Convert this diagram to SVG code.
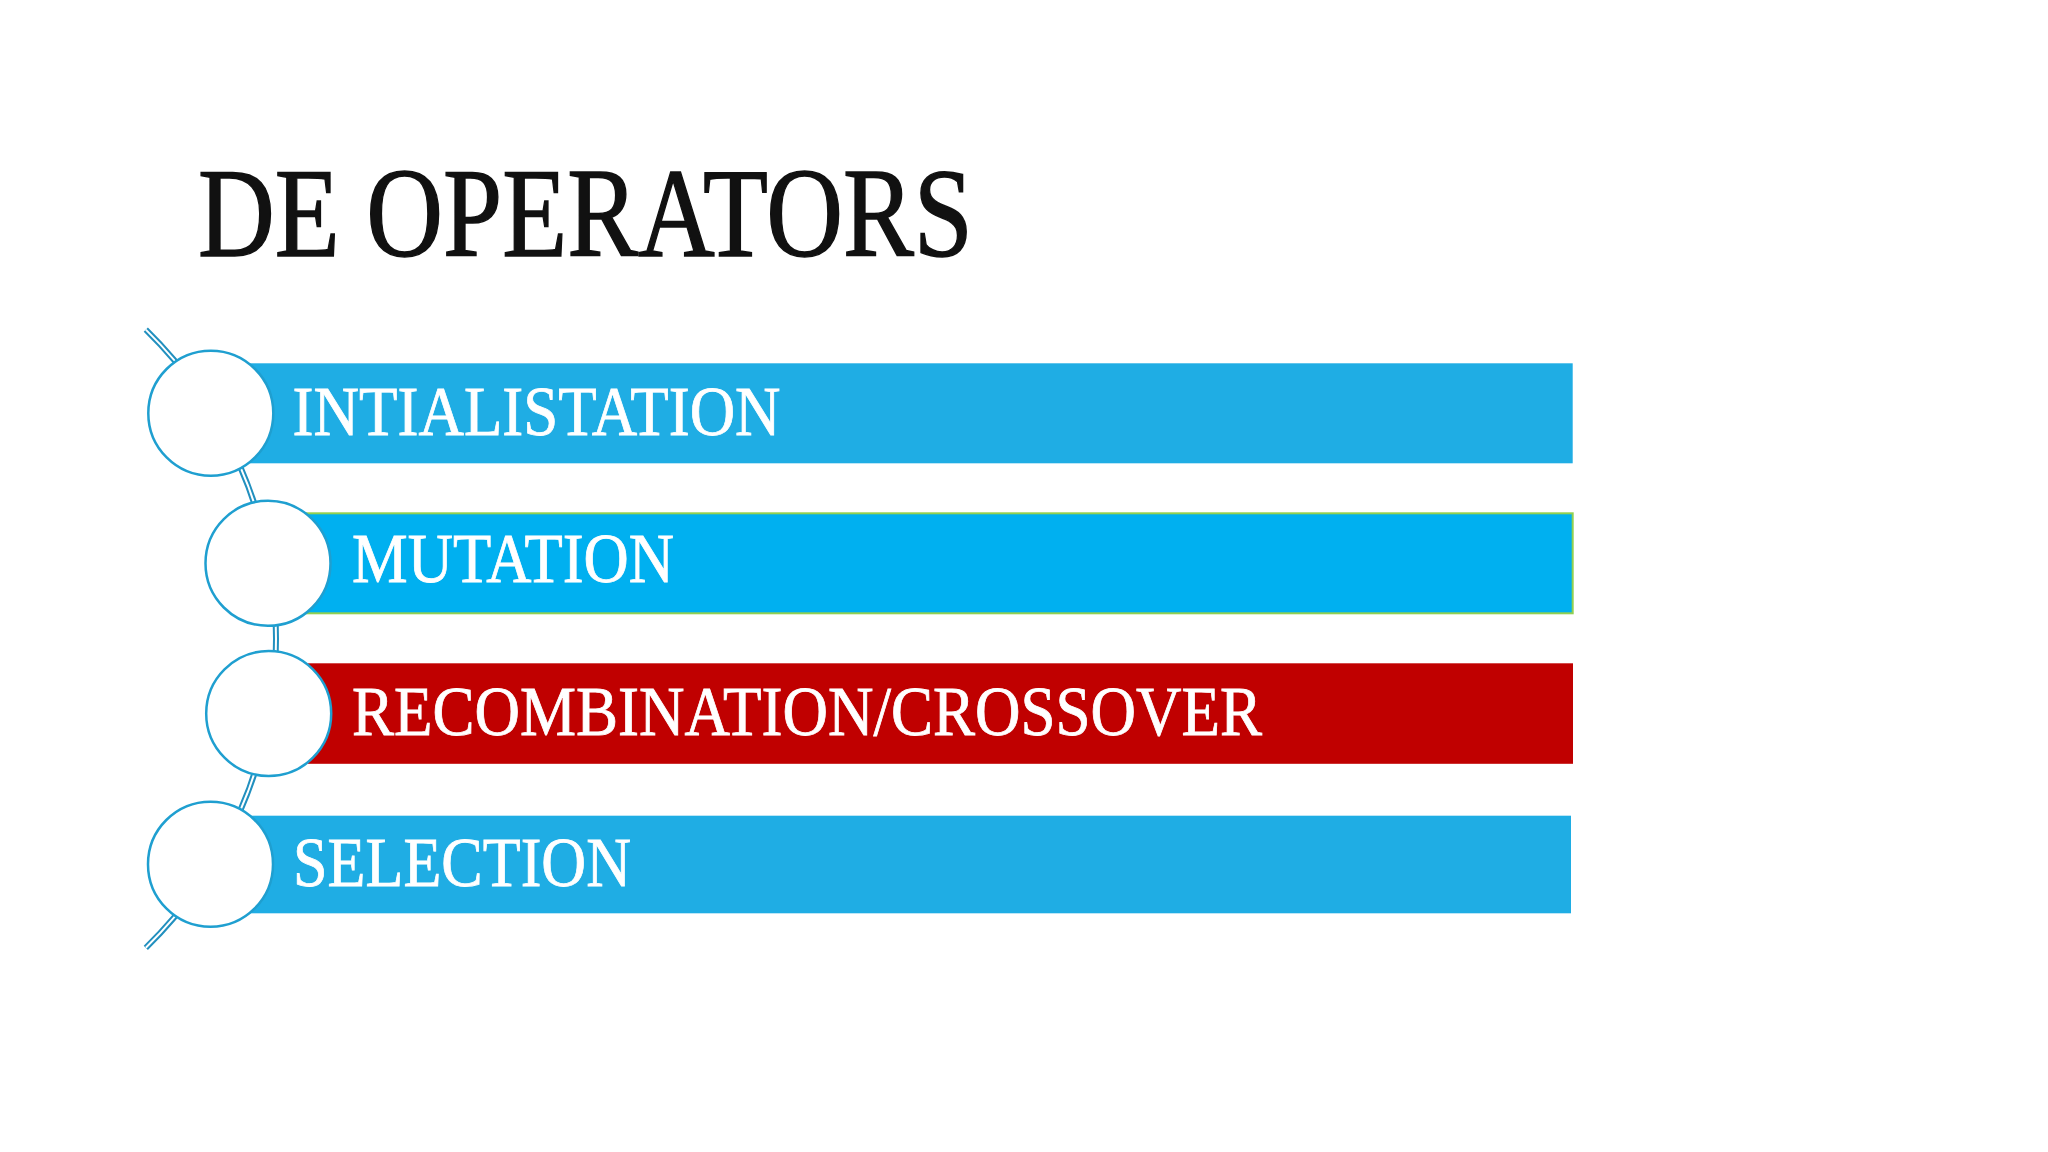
<svg xmlns="http://www.w3.org/2000/svg" width="2048" height="1152" viewBox="0 0 2048 1152">
<style>
.bar-blue{fill:#1FADE4}
.bar-cyan{fill:#00B0F0;stroke:#92D050;stroke-width:2}
.bar-red{fill:#C00000}
.ring{fill:#FFFFFF;stroke:#1F9FD0;stroke-width:2.5}
.lbl{font-family:"Liberation Serif","Times New Roman",serif;font-size:69px;fill:#FFFFFF;stroke:#FFFFFF;stroke-width:0.8}
.title{font-family:"Liberation Serif","Times New Roman",serif;font-size:126px;fill:#111111;stroke:#111111;stroke-width:1.5}
</style>
<rect width="2048" height="1152" fill="#FFFFFF"/>
<text class="title" x="198" y="256" textLength="775" lengthAdjust="spacingAndGlyphs">DE OPERATORS</text>
<g id="connectors">
<path d="M145.8,329.6 A432,432 0 0 1 145.8,947.8" fill="none" stroke="#2290BF" stroke-width="6"/>
<path d="M145.8,329.6 A432,432 0 0 1 145.8,947.8" fill="none" stroke="#FFFFFF" stroke-width="2"/>
</g>
<g id="node-initialisation">
<rect class="bar-blue" x="250" y="363.3" width="1322.7" height="100"/>
<circle class="ring" cx="210.8" cy="413.2" r="62.5"/>
<text class="lbl" x="292.6" y="435" textLength="488" lengthAdjust="spacingAndGlyphs">INTIALISTATION</text>
</g>
<g id="node-mutation">
<rect class="bar-cyan" x="306.7" y="513.3" width="1266" height="100"/>
<circle class="ring" cx="268" cy="563.3" r="62.5"/>
<text class="lbl" x="352" y="582" textLength="322" lengthAdjust="spacingAndGlyphs">MUTATION</text>
</g>
<g id="node-recombination">
<rect class="bar-red" x="308" y="663.3" width="1265" height="100.5"/>
<circle class="ring" cx="268.7" cy="713.5" r="62.5"/>
<text class="lbl" x="352" y="735" textLength="910" lengthAdjust="spacingAndGlyphs">RECOMBINATION/CROSSOVER</text>
</g>
<g id="node-selection">
<rect class="bar-blue" x="250" y="815.7" width="1321" height="97.6"/>
<circle class="ring" cx="210.5" cy="864.2" r="62.5"/>
<text class="lbl" x="293" y="885.7" textLength="338" lengthAdjust="spacingAndGlyphs">SELECTION</text>
</g>
</svg>
